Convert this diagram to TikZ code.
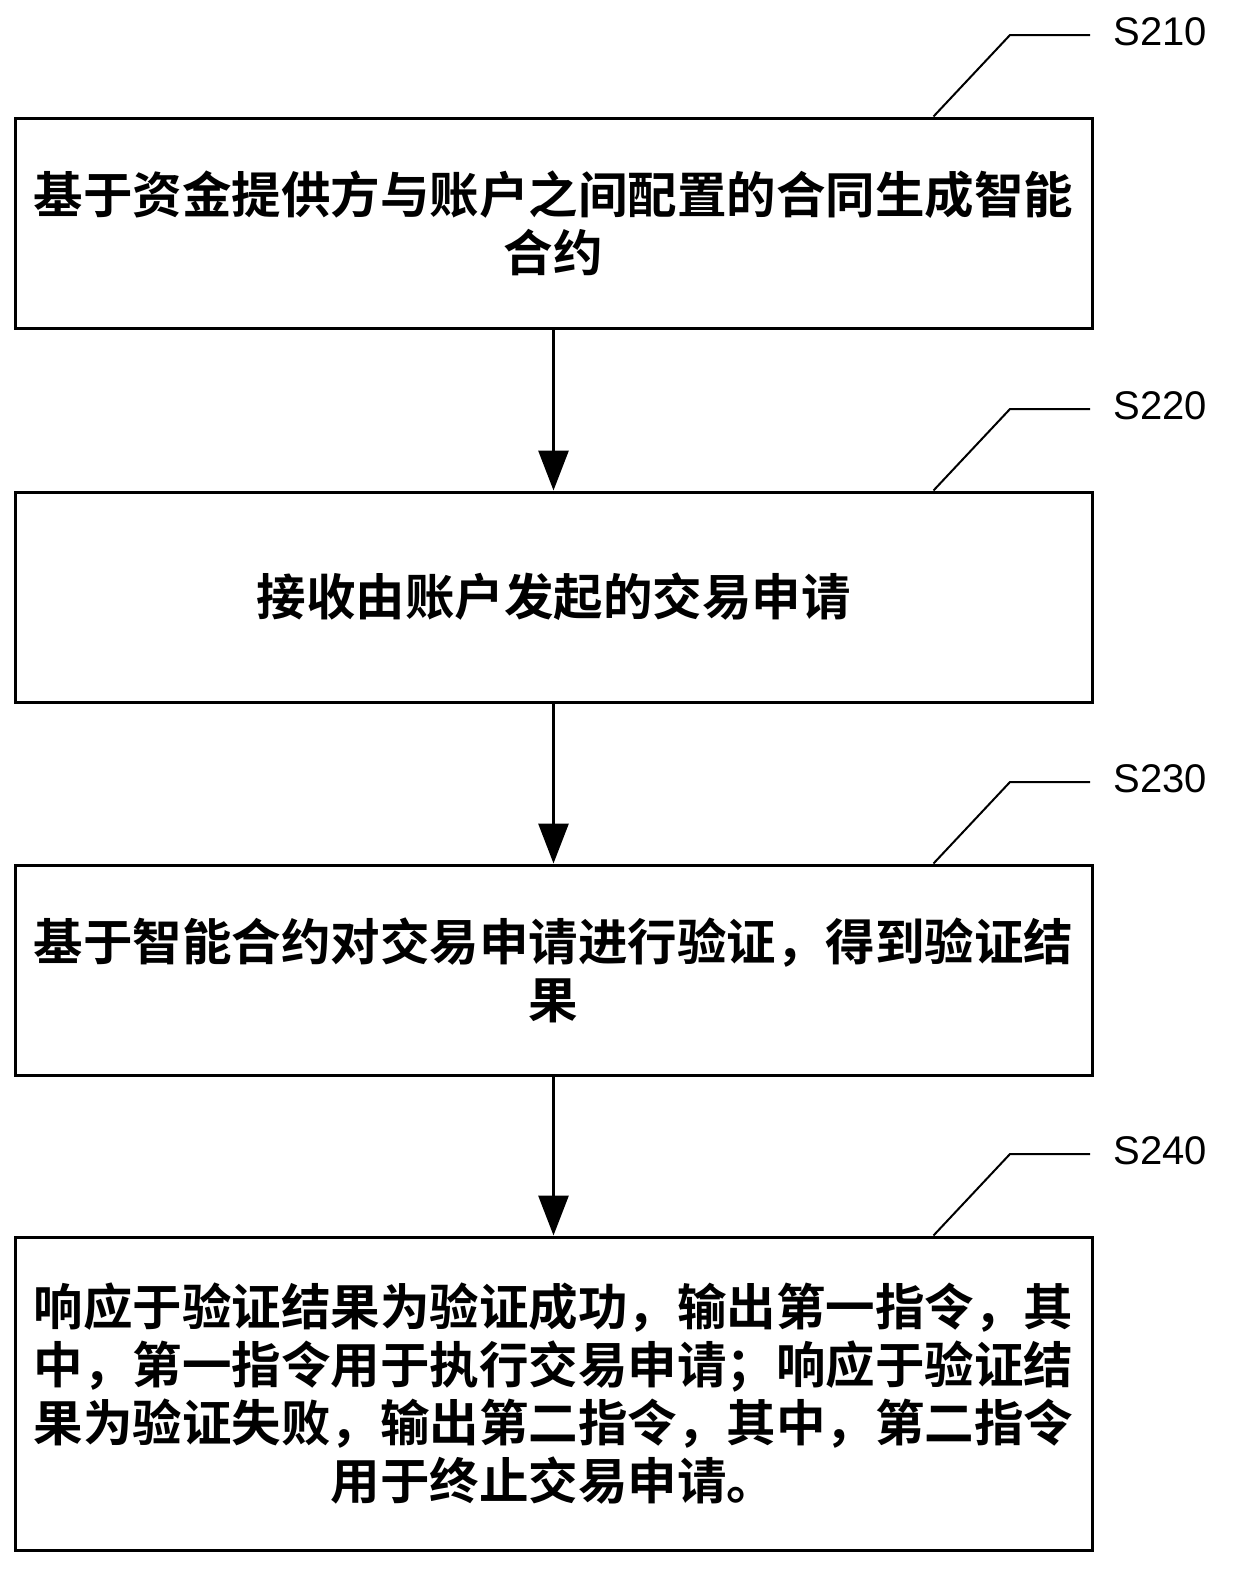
\documentclass[tikz,border=0pt]{standalone}
\usepackage{fontspec}
\newfontfamily\cjk{Noto Sans CJK SC}[BoldFont={Noto Sans CJK SC Bold}]
\setmainfont{Liberation Sans}
\usetikzlibrary{arrows.meta}
\begin{document}
\begin{tikzpicture}[x=1pt,y=-1pt,
 box/.style={draw,line width=3pt,minimum width=1077pt,inner sep=0pt,align=center,font=\cjk\bfseries\fontsize{49.5}{58}\selectfont},
 lead/.style={line width=2pt},
 lab/.style={font=\fontsize{40}{40}\selectfont,anchor=west},
 arr/.style={line width=3pt,-{Triangle[length=40pt,width=30pt]}}]
\useasboundingbox (0,0) rectangle (1232,1593);
\node[box,minimum height=210pt] (b1) at (553.5,223) {基于资金提供方与账户之间配置的合同生成智能\\合约};
\node[box,minimum height=210pt] (b2) at (553.5,597) {接收由账户发起的交易申请};
\node[box,minimum height=210pt] (b3) at (553.5,970) {基于智能合约对交易申请进行验证，得到验证结\\果};
\node[box,minimum height=313pt] (b4) at (553.5,1393.5) {响应于验证结果为验证成功，输出第一指令，其\\中，第一指令用于执行交易申请；响应于验证结\\果为验证失败，输出第二指令，其中，第二指令\\用于终止交易申请。};
\draw[arr] (b1.south) -- (b2.north);
\draw[arr] (b2.south) -- (b3.north);
\draw[arr] (b3.south) -- (b4.north);
\foreach \b/\t/\y in {b1/S210/118,b2/S220/492,b3/S230/865,b4/S240/1237}{
 \coordinate (k\b) at (1010,\y-83);
 \coordinate (e\b) at (1090,\y-83);
 \draw[lead] (\b.north east) ++(-160,0) -- (k\b) -- (e\b);
 \node[lab] (l\b) at (1110,\y-86) {\t};
}
\end{tikzpicture}
\end{document}
